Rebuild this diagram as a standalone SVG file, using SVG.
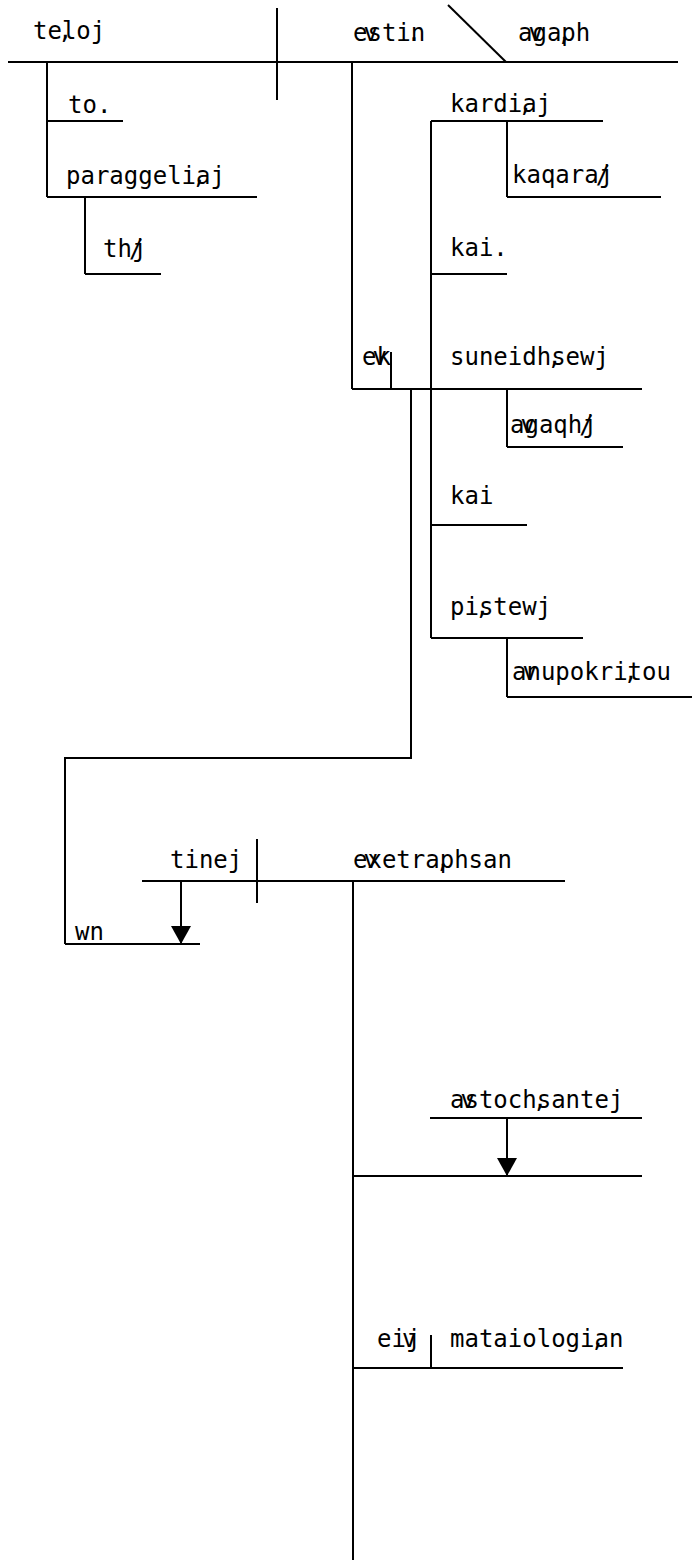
<svg xmlns="http://www.w3.org/2000/svg" width="692" height="1560" viewBox="0 0 692 1560">
<style>
  .ln{stroke:#000;stroke-width:2;fill:none}
  text{font-family:"DejaVu Sans Mono","Liberation Mono",monospace;font-size:24px;fill:#000}
</style>
<defs>
  <marker id="arr" markerUnits="userSpaceOnUse" markerWidth="18" markerHeight="20" viewBox="0 0 18 20" refX="18" refY="10" orient="auto">
    <path d="M0,0 L18,10 L0,20 Z" fill="#000"/>
  </marker>
</defs>
<rect width="692" height="1560" fill="#fff"/>

<g id="connectors" class="ln">
  <line x1="277" y1="8" x2="277" y2="100"/>
  <line x1="448" y1="5" x2="506" y2="62"/>
  <line x1="47" y1="62" x2="47" y2="197"/>
  <line x1="85" y1="197" x2="85" y2="274"/>
  <line x1="352" y1="62" x2="352" y2="389"/>
  <line x1="431" y1="121" x2="431" y2="638"/>
  <line x1="507" y1="121" x2="507" y2="197"/>
  <line x1="391" y1="352" x2="391" y2="389"/>
  <line x1="507" y1="389" x2="507" y2="447"/>
  <line x1="507" y1="638" x2="507" y2="697"/>
  <path d="M411,389 V758 H65 V944"/>
  <line x1="257" y1="839" x2="257" y2="903"/>
  <line x1="181" y1="881" x2="181" y2="944" marker-end="url(#arr)"/>
  <line x1="353" y1="881" x2="353" y2="1560"/>
  <line x1="507" y1="1118" x2="507" y2="1176" marker-end="url(#arr)"/>
  <line x1="353" y1="1176" x2="642" y2="1176"/>
  <line x1="431" y1="1335" x2="431" y2="1368"/>
</g>

<g id="n-telos"><line class="ln" x1="8" y1="62" x2="277" y2="62"/><text x="33" y="39">te<tspan dx="-4">,</tspan><tspan dx="-10.45">loj</tspan></text></g>
<g id="n-estin"><line class="ln" x1="277" y1="62" x2="506" y2="62"/><text x="353" y="41">e<tspan dx="-4">v</tspan><tspan dx="-10.45">sti</tspan><tspan dx="-4">.</tspan><tspan dx="-10.45">n</tspan></text></g>
<g id="n-agape"><line class="ln" x1="506" y1="62" x2="678" y2="62"/><text x="518" y="41">a<tspan dx="-4">v</tspan><tspan dx="-10.45">ga</tspan><tspan dx="-4">,</tspan><tspan dx="-10.45">ph</tspan></text></g>
<g id="n-to"><line class="ln" x1="47" y1="121" x2="123" y2="121"/><text x="68" y="113">to.</text></g>
<g id="n-paraggelias"><line class="ln" x1="47" y1="197" x2="257" y2="197"/><text x="66" y="184">paraggeli<tspan dx="-4">,</tspan><tspan dx="-10.45">aj</tspan></text></g>
<g id="n-tes"><line class="ln" x1="85" y1="274" x2="161" y2="274"/><text x="103" y="257">th<tspan dx="-3">/</tspan><tspan dx="-11.45">j</tspan></text></g>
<g id="n-kardias"><line class="ln" x1="431" y1="121" x2="603" y2="121"/><text x="450" y="112">kardi<tspan dx="-4">,</tspan><tspan dx="-10.45">aj</tspan></text></g>
<g id="n-katharas"><line class="ln" x1="507" y1="197" x2="661" y2="197"/><text x="512" y="183">kaqara<tspan dx="-3">/</tspan><tspan dx="-11.45">j</tspan></text></g>
<g id="n-kai1"><line class="ln" x1="431" y1="274" x2="507" y2="274"/><text x="450" y="256">kai.</text></g>
<g id="n-ek"><line class="ln" x1="352" y1="389" x2="431" y2="389"/><text x="362" y="365">e<tspan dx="-4">v</tspan><tspan dx="-10.45">k</tspan></text></g>
<g id="n-suneideseos"><line class="ln" x1="431" y1="389" x2="642" y2="389"/><text x="450" y="365">suneidh<tspan dx="-4">,</tspan><tspan dx="-10.45">sewj</tspan></text></g>
<g id="n-agathes"><line class="ln" x1="507" y1="447" x2="623" y2="447"/><text x="510" y="433">a<tspan dx="-4">v</tspan><tspan dx="-10.45">gaqh</tspan><tspan dx="-3">/</tspan><tspan dx="-11.45">j</tspan></text></g>
<g id="n-kai2"><line class="ln" x1="431" y1="525" x2="527" y2="525"/><text x="450" y="504">kai</text></g>
<g id="n-pisteos"><line class="ln" x1="431" y1="638" x2="583" y2="638"/><text x="450" y="615">pi<tspan dx="-4">,</tspan><tspan dx="-10.45">stewj</tspan></text></g>
<g id="n-anupokritou"><line class="ln" x1="507" y1="697" x2="692" y2="697"/><text x="512" y="680">a<tspan dx="-4">v</tspan><tspan dx="-10.45">nupokri</tspan><tspan dx="-4">,</tspan><tspan dx="-10.45">tou</tspan></text></g>
<g id="n-tines"><line class="ln" x1="142" y1="881" x2="257" y2="881"/><text x="170" y="868">tinej</text></g>
<g id="n-exetrapesan"><line class="ln" x1="257" y1="881" x2="565" y2="881"/><text x="353" y="868">e<tspan dx="-4">v</tspan><tspan dx="-10.45">xetra</tspan><tspan dx="-4">,</tspan><tspan dx="-10.45">phsan</tspan></text></g>
<g id="n-hon"><line class="ln" x1="65" y1="944" x2="200" y2="944"/><text x="75" y="940">wn</text></g>
<g id="n-astochesantes"><line class="ln" x1="430" y1="1118" x2="642" y2="1118"/><text x="450" y="1108">a<tspan dx="-4">v</tspan><tspan dx="-10.45">stoch</tspan><tspan dx="-4">,</tspan><tspan dx="-10.45">santej</tspan></text></g>
<g id="n-eis"><line class="ln" x1="353" y1="1368" x2="431" y2="1368"/><text x="377" y="1347">ei<tspan dx="-4">v</tspan><tspan dx="-10.45">j</tspan></text></g>
<g id="n-mataiologian"><line class="ln" x1="431" y1="1368" x2="623" y2="1368"/><text x="450" y="1347">mataiologi<tspan dx="-4">,</tspan><tspan dx="-10.45">an</tspan></text></g>
</svg>
